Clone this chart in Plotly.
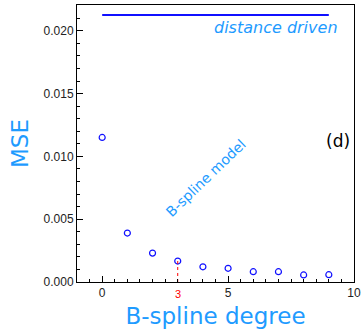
import plotly.graph_objects as go

degrees = [0, 1, 2, 3, 4, 5, 6, 7, 8, 9]
mse = [0.01151, 0.0039, 0.0023, 0.00167, 0.00121, 0.00109, 0.00082, 0.00082, 0.00056, 0.00058]
dd_x = [0, 9]
dd_mse = [0.02127, 0.02127]
chosen_degree = 3

blue_txt = "#1e9bff"

fig = go.Figure()
fig.add_trace(go.Scatter(x=dd_x, y=dd_mse, mode="lines",
                         line=dict(color="#1010ff", width=2), showlegend=False))
fig.add_trace(go.Scatter(x=degrees, y=mse, mode="markers",
                         marker=dict(symbol="circle-open", size=6, color="#1010ff",
                                     line=dict(width=1.2, color="#1010ff")),
                         showlegend=False))
fig.add_trace(go.Scatter(x=[chosen_degree, chosen_degree], y=[0, mse[degrees.index(chosen_degree)]],
                         mode="lines", line=dict(color="red", width=1, dash="dot"),
                         showlegend=False))

fig.add_annotation(x=6.9, y=0.02023, text="<i>distance driven</i>", showarrow=False,
                   font=dict(family="DejaVu Sans", size=16, color=blue_txt))
fig.add_annotation(x=4.12, y=0.00825, text="B-spline model", showarrow=False, textangle=-44,
                   font=dict(family="DejaVu Sans", size=14, color=blue_txt))
fig.add_annotation(x=9.35, y=0.0112, text="(d)", showarrow=False,
                   font=dict(family="DejaVu Sans", size=17, color="black"))
fig.add_annotation(x=chosen_degree, y=0, yref="y", text="3", showarrow=False, yshift=-12,
                   font=dict(family="Liberation Sans", size=11, color="red"))

fig.update_layout(
    width=363, height=329,
    margin=dict(l=77, r=9, t=5, b=47),
    plot_bgcolor="white", paper_bgcolor="white",
    font=dict(family="Liberation Sans", size=12, color="#222"),
)
fig.update_xaxes(range=[-1, 10], tickvals=[0, 5, 10], ticks="inside", ticklen=6,
                 tickcolor="black", showline=True, linecolor="black", linewidth=1, mirror=True,
                 showgrid=False, zeroline=False, automargin=False,
                 minor=dict(dtick=0.5, tick0=0, ticks="inside", ticklen=3, tickcolor="black", showgrid=False),
                 title=dict(text="B-spline degree", font=dict(family="DejaVu Sans", size=23, color=blue_txt),
                            standoff=10))
fig.update_yaxes(range=[0, 0.02206], tickvals=[0, 0.005, 0.01, 0.015, 0.02], tickformat=".3f",
                 ticks="inside", ticklen=6, tickcolor="black", showline=True, linecolor="black",
                 linewidth=1, mirror=True, showgrid=False, zeroline=False, automargin=False,
                 minor=dict(dtick=0.001, tick0=0, ticks="inside", ticklen=3, tickcolor="black", showgrid=False),
                 title=dict(text="MSE", font=dict(family="DejaVu Sans", size=23, color=blue_txt),
                            standoff=8))

fig.write_html("out.html")
